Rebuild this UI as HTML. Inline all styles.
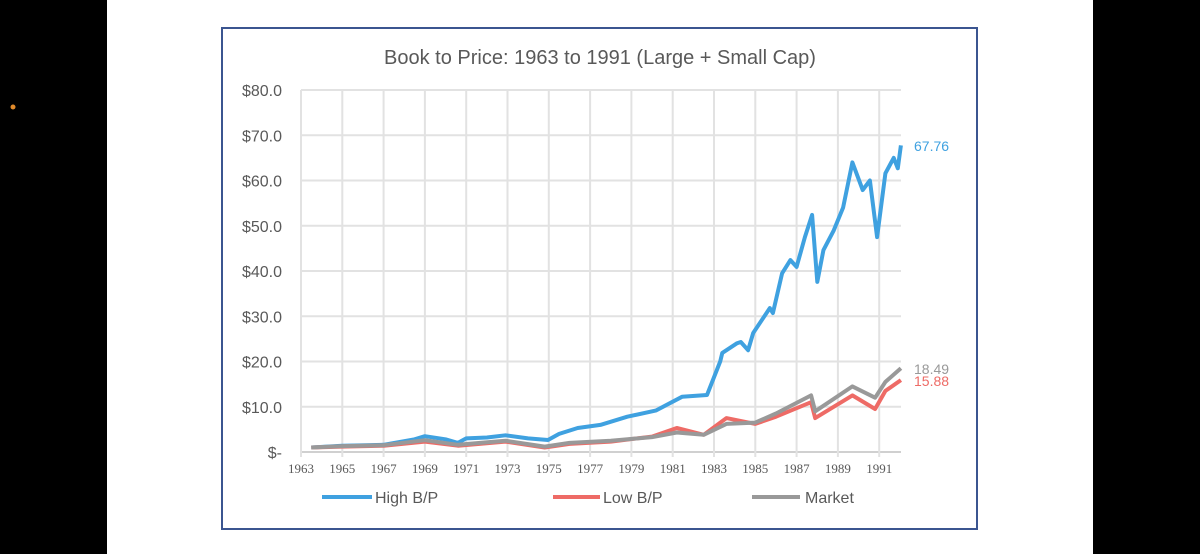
<!DOCTYPE html>
<html><head><meta charset="utf-8"><style>
html,body{margin:0;padding:0;width:1200px;height:554px;overflow:hidden;background:#000;font-family:"Liberation Sans",sans-serif}
#page{position:absolute;left:107px;top:0;width:986px;height:554px;background:#fff}
svg{position:absolute;left:0;top:0}
</style></head><body>
<div id="page"></div>
<svg width="1200" height="554">
<circle cx="13" cy="107" r="2.5" fill="#e08a2a"/>
<rect x="222" y="28" width="755" height="501" fill="#fff" stroke="#3b5590" stroke-width="2"/>
<text x="600" y="64" text-anchor="middle" font-size="20" fill="#595959">Book to Price: 1963 to 1991 (Large + Small Cap)</text>
<g id="grid"></g><g id="ylab"></g><g id="xlab"></g><g id="lines"></g><g id="endlab"></g>
<g>
<g><line x1="322" y1="497" x2="372" y2="497" stroke="#3fa1e0" stroke-width="4"/><text x="375" y="503" font-size="16" fill="#595959">High B/P</text></g>
<g><line x1="553" y1="497" x2="600" y2="497" stroke="#ee6b66" stroke-width="4"/><text x="603" y="503" font-size="16" fill="#595959">Low B/P</text></g>
<g><line x1="752" y1="497" x2="800" y2="497" stroke="#999" stroke-width="4"/><text x="805" y="503" font-size="16" fill="#595959">Market</text></g>
</g>
</svg>
<script>
const yTicks=[0,10,20,30,40,50,60,70,80];
const yTickLabels=["$-","$10.0","$20.0","$30.0","$40.0","$50.0","$60.0","$70.0","$80.0"];
const xTicks=[1963,1965,1967,1969,1971,1973,1975,1977,1979,1981,1983,1985,1987,1989,1991];
const highYears=[1963.5,1965,1967,1968.5,1969,1970,1970.6,1971,1972,1972.9,1974,1974.96,1975.5,1976.4,1977.5,1978.8,1980.2,1981.45,1982.66,1983.3,1983.4,1984.1,1984.3,1984.65,1984.9,1985.7,1985.85,1986.3,1986.7,1987.0,1987.4,1987.75,1988.0,1988.3,1988.8,1989.25,1989.7,1990.2,1990.55,1990.9,1991.3,1991.7,1991.9,1992.05];
const highVals=[1.0,1.4,1.6,2.8,3.5,2.8,2.0,3.0,3.2,3.7,3.0,2.65,4.0,5.3,6.0,7.8,9.2,12.2,12.6,20,21.9,24,24.3,22.5,26.3,31.8,30.7,39.5,42.4,40.9,47.5,52.4,37.6,44.6,49,54,64,57.9,60,47.5,61.6,65,62.7,67.76];
const mktYears=[1963.5,1965,1967,1969,1970.6,1972.9,1974.8,1976,1978,1980,1981.2,1982.5,1983.6,1985,1986,1987.7,1987.9,1989.7,1990.8,1991.3,1992.05];
const mktVals=[1.0,1.3,1.5,2.6,1.6,2.5,1.2,2.0,2.5,3.3,4.3,3.8,6.2,6.5,8.5,12.5,9.0,14.5,12.0,15.5,18.49];
const lowYears=[1963.5,1965,1967,1969,1970.6,1972.9,1974.8,1976,1978,1980,1981.2,1982.5,1983.6,1985,1986,1987.7,1987.9,1989.7,1990.8,1991.3,1992.05];
const lowVals=[1.0,1.2,1.4,2.3,1.4,2.3,1.0,1.8,2.3,3.4,5.3,3.8,7.5,6.2,7.8,11,7.5,12.5,9.5,13.5,15.88];
const series=[{n:"high-bp",c:"#3fa1e0",x:highYears,y:highVals,lab:"67.76"},{n:"low-bp",c:"#ee6b66",x:lowYears,y:lowVals,lab:"15.88"},{n:"market",c:"#999999",x:mktYears,y:mktVals,lab:"18.49"}];
const NS="http://www.w3.org/2000/svg";
const X0=301,X1=901,Y0=452,Y1=90;
const xs=v=>X0+(v-1963)*20.65;
const ys=v=>Y0-(v/80)*(Y0-Y1);
function mk(t,a,p){const e=document.createElementNS(NS,t);for(const k in a)e.setAttribute(k,a[k]);p.appendChild(e);return e;}
const grid=document.getElementById('grid'),yl=document.getElementById('ylab'),xl=document.getElementById('xlab'),ln=document.getElementById('lines'),el=document.getElementById('endlab');
yTicks.forEach((v,i)=>{
 const g=mk('line',{x1:X0,x2:X1,y1:ys(v),y2:ys(v),stroke:v===0?'#d0d0d0':'#e2e2e2','stroke-width':2},grid);
 
 
 const t=mk('text',{x:282,y:ys(v)+6,'text-anchor':'end','font-size':16,fill:'#595959'},yl);
 t.textContent=yTickLabels[i];
 
 
});
xTicks.forEach(v=>{
 const g=mk('line',{x1:xs(v),x2:xs(v),y1:Y1,y2:Y0+5,stroke:'#e2e2e2','stroke-width':2},grid);
 
 
 const t=mk('text',{x:xs(v),y:473,'text-anchor':'middle','font-size':13,fill:'#595959','font-family':'Liberation Serif, serif'},xl);
 t.textContent=v;
 
 
});
series.forEach(s=>{
 const d=s.x.map((v,i)=>(i?'L':'M')+xs(v).toFixed(1)+','+ys(s.y[i]).toFixed(1)).join('');
 const p=mk('path',{d:d,fill:'none',stroke:s.c,'stroke-width':4,'stroke-linejoin':'round'},ln);
 
 
});
[[0,146],[2,369],[1,381]].forEach(([i,y])=>{
 const s=series[i];
 const t=mk('text',{x:914,y:y+5,'font-size':14,fill:s.c},el);
 t.textContent=s.lab;
 
 
});
</script>
</body></html>
